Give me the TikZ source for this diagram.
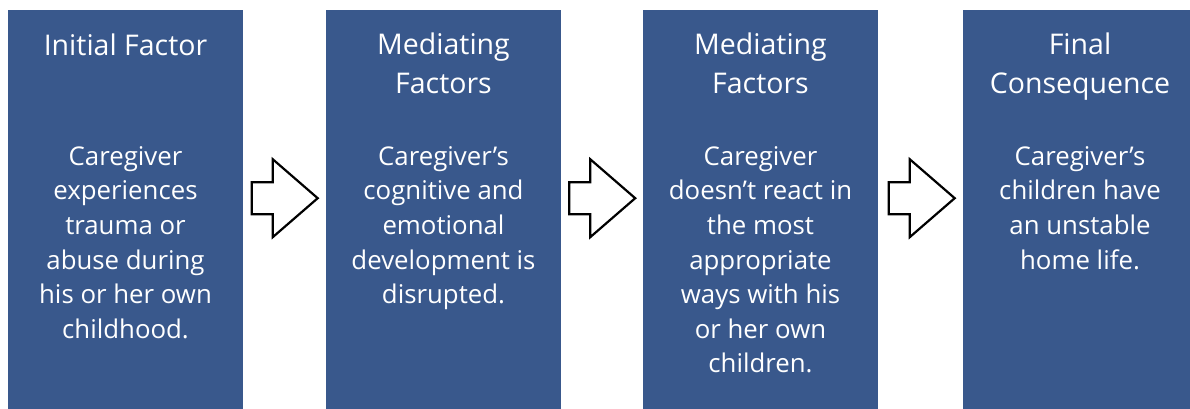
\documentclass[tikz,border=0pt]{standalone}
\usepackage{fontspec}
\setmainfont{Open Sans}
\usetikzlibrary{calc}
\definecolor{stageblue}{RGB}{57,88,140}
% strut that fixes the height of a first line, so the node top sits a set distance above its baseline
\newcommand{\firstline}[1]{\rule{0pt}{#1}}
\tikzset{
  stagebox/.style={fill=stageblue, draw=none, inner sep=0pt, anchor=north west,
    minimum width=235pt, minimum height=399pt},
  stagetitle/.style={text=white, align=center, anchor=north, inner sep=0pt,
    font=\fontsize{28.5}{39}\selectfont},
  stagebody/.style={text=white, align=center, anchor=north, inner sep=0pt,
    font=\fontsize{25.8}{34.6}\selectfont},
  blockarrow/.pic={
    \draw[line width=2.2pt, line join=miter, fill=white]
      (-33,-16) -- (-12,-16) -- (-12,-39) -- (33,0) -- (-12,39) -- (-12,16) -- (-33,16) -- cycle;
  }
}
\begin{document}
\begin{tikzpicture}[x=1pt,y=-1pt]
\useasboundingbox (0,0) rectangle (1190,409);

% the four stages
\node[stagebox] (b1) at (8,10) {};
\node[stagebox] (b2) at (326,10) {};
\node[stagebox] (b3) at (643,10) {};
\node[stagebox, minimum width=227pt] (b4) at (963,10) {};

% headings (first baseline 24pt below the node top)
\node[stagetitle] (t1) at (125.5,31) {\firstline{24pt}Initial Factor};
\node[stagetitle] (t2) at (443.5,30) {\firstline{24pt}Mediating\\Factors};
\node[stagetitle] (t3) at (760.5,30) {\firstline{24pt}Mediating\\Factors};
\node[stagetitle] (t4) at (1080,30) {\firstline{24pt}Final\\Consequence};

% descriptions (first baseline 22pt below the node top)
\node[stagebody] (d1) at (125.5,143) {\firstline{22pt}Caregiver\\experiences\\trauma or\\abuse during\\his or her own\\childhood.};
\node[stagebody] (d2) at (443.5,143) {\firstline{22pt}Caregiver’s\\cognitive and\\emotional\\development is\\disrupted.};
\node[stagebody] (d3) at (760.5,143) {\firstline{22pt}Caregiver\\doesn’t react in\\the most\\appropriate\\ways with his\\or her own\\children.};
\node[stagebody] (d4) at (1080,143) {\firstline{22pt}Caregiver’s\\children have\\an unstable\\home life.};

% block arrows between the stages
\pic at ($(b1.east)!0.5!(b2.west)+(0,-11.5)$) {blockarrow};
\pic at ($(b2.east)!0.5!(b3.west)+(0,-11.5)$) {blockarrow};
\pic at ($(b3.east)!0.5!(b4.west)+(1,-11.5)$) {blockarrow};
\end{tikzpicture}
\end{document}
